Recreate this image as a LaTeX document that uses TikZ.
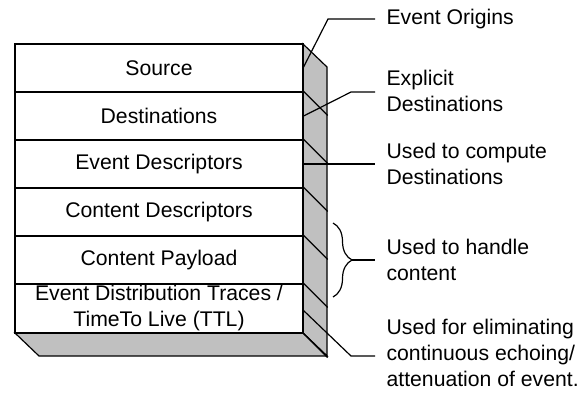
\documentclass[tikz,border=0pt]{standalone}
\usepackage{fontspec}
\setmainfont{Liberation Sans}
\usetikzlibrary{decorations.pathreplacing}
\definecolor{sidegray}{HTML}{C0C0C0}
\begin{document}
\begin{tikzpicture}[x=0.5pt,y=-0.5pt,line width=0.6pt,line join=miter,
  txt/.style={font=\fontsize{10.6}{13}\selectfont},
  row/.style={txt,draw,fill=white,minimum width=144pt,minimum height=24pt,inner sep=0pt,align=center},
  lab/.style={txt,anchor=west,align=left,inner sep=0pt},
  face/.style={draw,fill=sidegray},
  callout/.style={draw}]
\useasboundingbox (0,0) rectangle (587,392);
% extruded faces
\draw[face] (303,44) -- (327,67) -- (327,356) -- (303,333) -- cycle;
\draw[face] (15,333) -- (303,333) -- (327,356) -- (39,356) -- cycle;
% rows
\node[row] (src) at (159,68) {Source};
\node[row] (dst) at (159,116) {Destinations};
\node[row] (evd) at (159,164) {Event Descriptors};
\node[row] (cnd) at (159,212) {Content Descriptors};
\node[row] (pay) at (159,260) {Content Payload};
\node[row,minimum height=24.5pt] (ttl) at (159,308.5) {Event Distribution Traces /\\TimeTo Live (TTL)};
% side diagonals
\foreach \r in {dst,evd,cnd,pay,ttl}{\draw (\r.north east) -- ++(24,24);}
\draw (ttl.south east) -- ++(24,24);
% labels
\node[lab] (l1) at (386,19) {Event Origins};
\node[lab] (l2) at (386,91) {Explicit\\Destinations};
\node[lab] (l3) at (386,164) {Used to compute\\Destinations};
\node[lab] (l4) at (386,260) {Used to handle\\content};
\node[lab] (l5) at (386,353) {Used for eliminating\\continuous echoing/\\attenuation of event.};
% callout bends and ends
\coordinate (k1) at (328,19);
\coordinate (k2) at (351,92);
\coordinate (k5) at (351,356);
\coordinate (bt) at (333,223);
\coordinate (bb) at (333,297);
\coordinate (tip) at (352,260);
\coordinate (s5) at (303,310);
\coordinate (e1) at (375,19);
\coordinate (e2) at (375,92);
\coordinate (e3) at (375,164);
\coordinate (e4) at (375,260);
\coordinate (e5) at (375,356);
% callouts
\draw[callout] ([yshift=0.5pt]src.east) -- (k1) -- (e1);
\draw[callout] (dst.east) -- (k2) -- (e2);
\draw[callout] (evd.east) -- (e3);
\draw[decorate,decoration={brace,amplitude=9.5pt}] (bt) -- (bb);
\draw[callout] (tip) -- (e4);
\draw[callout] (s5) -- (k5) -- (e5);
\end{tikzpicture}
\end{document}
